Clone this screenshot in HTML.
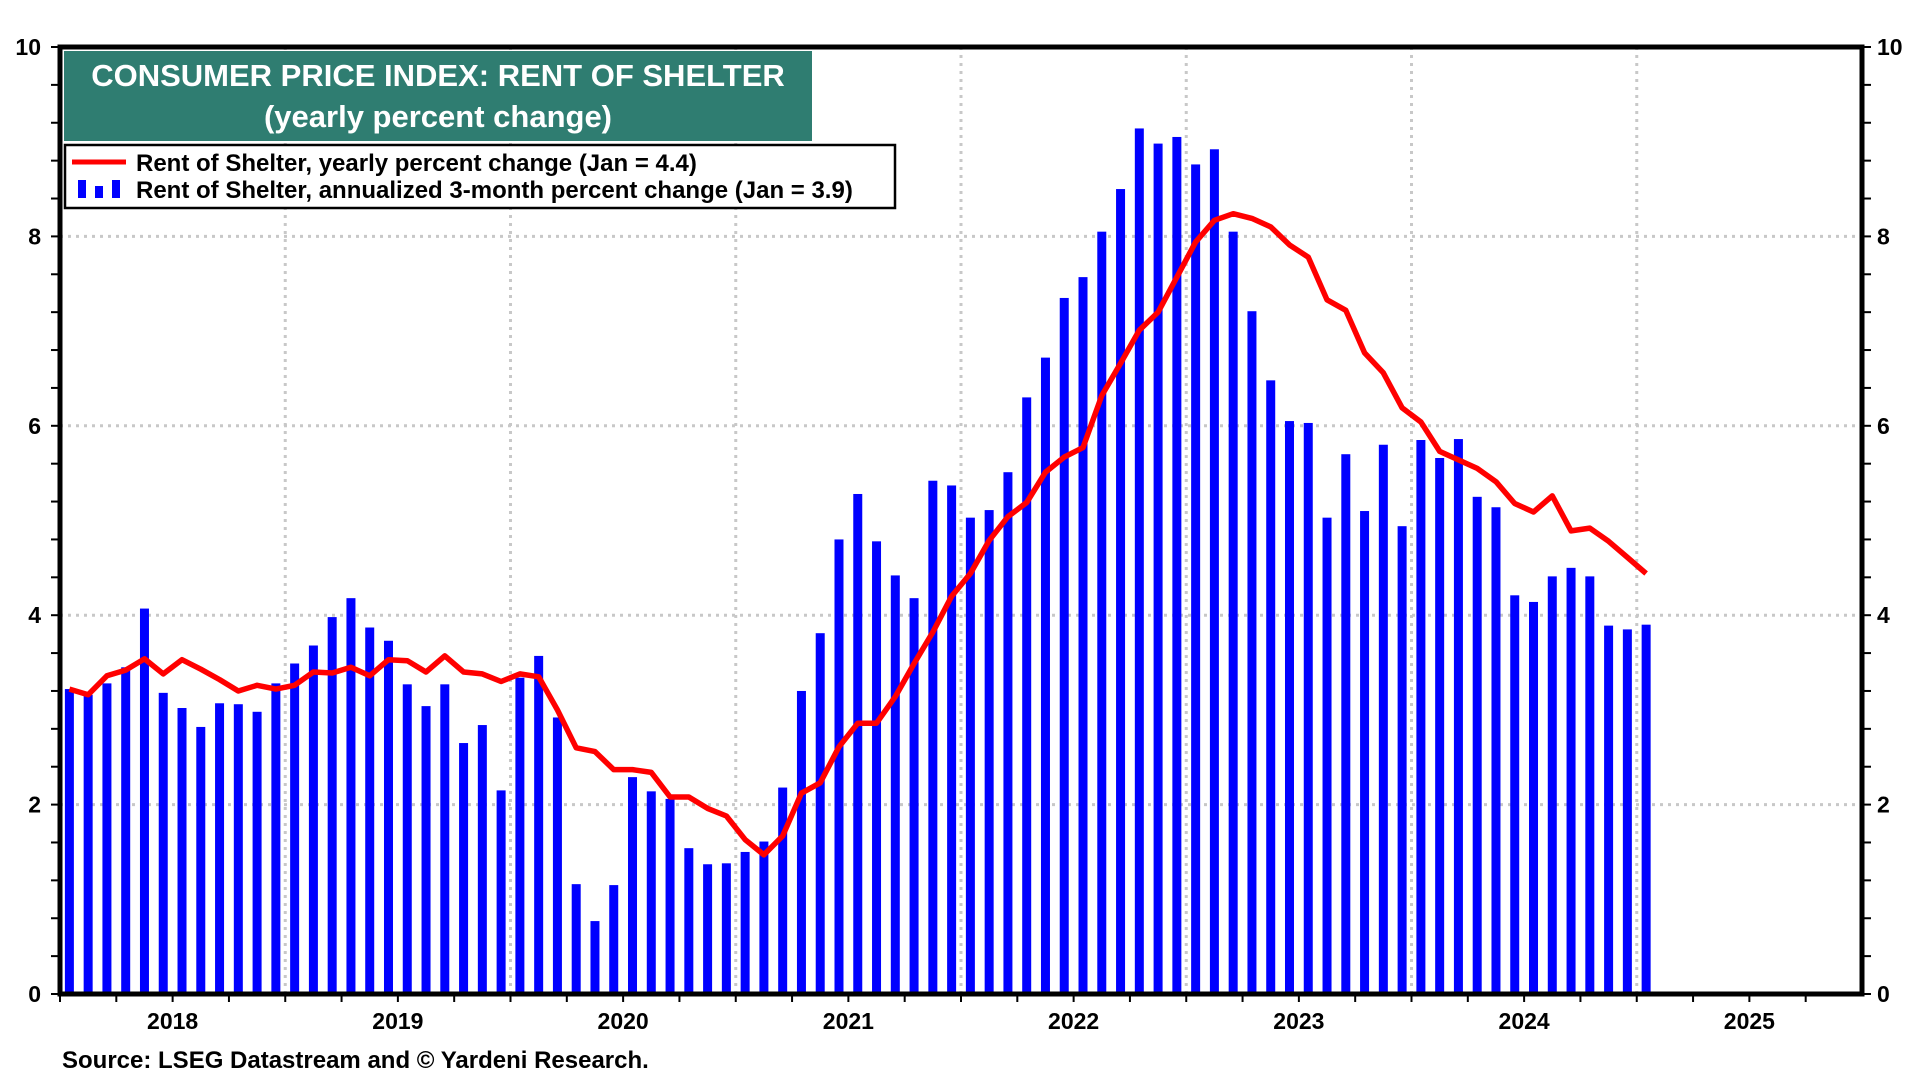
<!DOCTYPE html>
<html><head><meta charset="utf-8"><style>
html,body{margin:0;padding:0;background:#fff;}
svg{display:block;font-family:"Liberation Sans",Arial,sans-serif;font-weight:bold;}
</style></head><body>
<svg id="chart" width="1920" height="1080" viewBox="0 0 1920 1080" xmlns="http://www.w3.org/2000/svg">
<g id="grid"></g>
<g id="bars"></g>
<polyline id="line" fill="none" stroke="#ff0000" stroke-width="5.5" stroke-linejoin="round"/>
<g id="axes"></g>
<g>
<rect x="64" y="51" width="748" height="90" fill="#2f7d71"/>
<text x="438" y="86" fill="#fff" font-size="31" text-anchor="middle">CONSUMER PRICE INDEX: RENT OF SHELTER</text>
<text x="438" y="127" fill="#fff" font-size="31" text-anchor="middle">(yearly percent change)</text>
</g>
<g>
<rect x="65" y="145" width="830" height="63" fill="#fff" stroke="#000" stroke-width="2.5"/>
<g>
<line x1="72" y1="162" x2="126" y2="162" stroke="#ff0000" stroke-width="5"/>
<text x="136" y="171" font-size="24">Rent of Shelter, yearly percent change (Jan = 4.4)</text>
</g>
<g>
<rect x="78" y="180" width="8" height="18" fill="#0000ff"/>
<rect x="95" y="186" width="8" height="12" fill="#0000ff"/>
<rect x="112" y="180" width="8" height="18" fill="#0000ff"/>
<text x="136" y="198" font-size="24">Rent of Shelter, annualized 3-month percent change (Jan = 3.9)</text>
</g>
</g>
<text x="62" y="1068" font-size="24">Source: LSEG Datastream and © Yardeni Research.</text>
</svg>
<script>
const years = ['2018','2019','2020','2021','2022','2023','2024','2025'];
const yTicks = [0,2,4,6,8,10];
const barValues = [
3.22,3.16,3.28,3.45,4.07,3.18,3.02,2.82,3.07,3.06,2.98,3.28,
3.49,3.68,3.98,4.18,3.87,3.73,3.27,3.04,3.27,2.65,2.84,2.15,
3.34,3.57,2.92,1.16,0.77,1.15,2.29,2.14,2.06,1.54,1.37,1.38,
1.50,1.61,2.18,3.20,3.81,4.80,5.28,4.78,4.42,4.18,5.42,5.37,
5.03,5.11,5.51,6.30,6.72,7.35,7.57,8.05,8.50,9.14,8.98,9.05,
8.76,8.92,8.05,7.21,6.48,6.05,6.03,5.03,5.70,5.10,5.80,4.94,
5.85,5.66,5.86,5.25,5.14,4.21,4.14,4.41,4.50,4.41,3.89,3.85,
3.90];
const lineValues = [
3.22,3.16,3.36,3.42,3.54,3.38,3.53,3.43,3.32,3.20,3.26,3.22,
3.26,3.40,3.39,3.45,3.36,3.53,3.52,3.40,3.57,3.40,3.38,3.30,
3.38,3.35,3.00,2.60,2.56,2.37,2.37,2.34,2.08,2.08,1.96,1.88,
1.63,1.47,1.67,2.12,2.23,2.61,2.86,2.86,3.14,3.49,3.82,4.20,
4.44,4.79,5.04,5.19,5.51,5.67,5.77,6.32,6.66,7.01,7.20,7.57,
7.94,8.17,8.24,8.19,8.10,7.91,7.78,7.33,7.22,6.77,6.56,6.19,
6.04,5.73,5.64,5.55,5.41,5.18,5.09,5.26,4.89,4.92,4.78,4.61,
4.44];
const NS='http://www.w3.org/2000/svg';
const L=60,R=1862,T=47,B=994;
const monthW=(R-L)/(years.length*12);
const xM=i=>L+(i+0.5)*monthW;
const yV=v=>B-(v/10)*(B-T);
function mk(tag,attrs,parent){const e=document.createElementNS(NS,tag);for(const k in attrs)e.setAttribute(k,attrs[k]);parent.appendChild(e);return e;}
const grid=document.getElementById('grid'),axes=document.getElementById('axes');
yTicks.forEach(v=>{
 if(v>0&&v<10){const g=mk('line',{x1:L,x2:R,y1:yV(v),y2:yV(v),stroke:'#c8c8c8','stroke-width':3,'stroke-dasharray':'3 5'},grid);
 
 }
 const t1=mk('text',{x:41,y:yV(v)+8,'font-size':23,'text-anchor':'end'},axes);t1.textContent=v;
 
 
 const t2=mk('text',{x:1877,y:yV(v)+8,'font-size':23},axes);t2.textContent=v;
 
 
});
for(let k=0;k<=25;k++){const y=B-k*(B-T)/25;
 mk('line',{x1:L-9,x2:L,y1:y,y2:y,stroke:'#000','stroke-width':2},axes);
 mk('line',{x1:R,x2:R+9,y1:y,y2:y,stroke:'#000','stroke-width':2},axes);}
years.forEach((yr,i)=>{
 const x0=L+i*12*monthW;
 if(i>0){const g=mk('line',{x1:x0,x2:x0,y1:T,y2:B,stroke:'#c8c8c8','stroke-width':3,'stroke-dasharray':'3 5'},grid);
 
 }
 for(let q=0;q<4;q++){const x=x0+q*3*monthW;mk('line',{x1:x,x2:x,y1:B,y2:B+8,stroke:'#000','stroke-width':2},axes);}
 const t=mk('text',{x:x0+6*monthW,y:1029,'font-size':23,'text-anchor':'middle'},axes);t.textContent=yr;
 
 
});
const bars=document.getElementById('bars');
barValues.forEach((v,i)=>{const b=mk('rect',{x:xM(i)-4.5,y:yV(v),width:9,height:B-yV(v),fill:'#0000ff'},bars);
 
 });
document.getElementById('line').setAttribute('points',lineValues.map((v,i)=>xM(i).toFixed(1)+','+yV(v).toFixed(1)).join(' '));
const fr=mk('rect',{x:L,y:T,width:R-L,height:B-T,fill:'none',stroke:'#000','stroke-width':5},axes);


</script>
</body></html>
